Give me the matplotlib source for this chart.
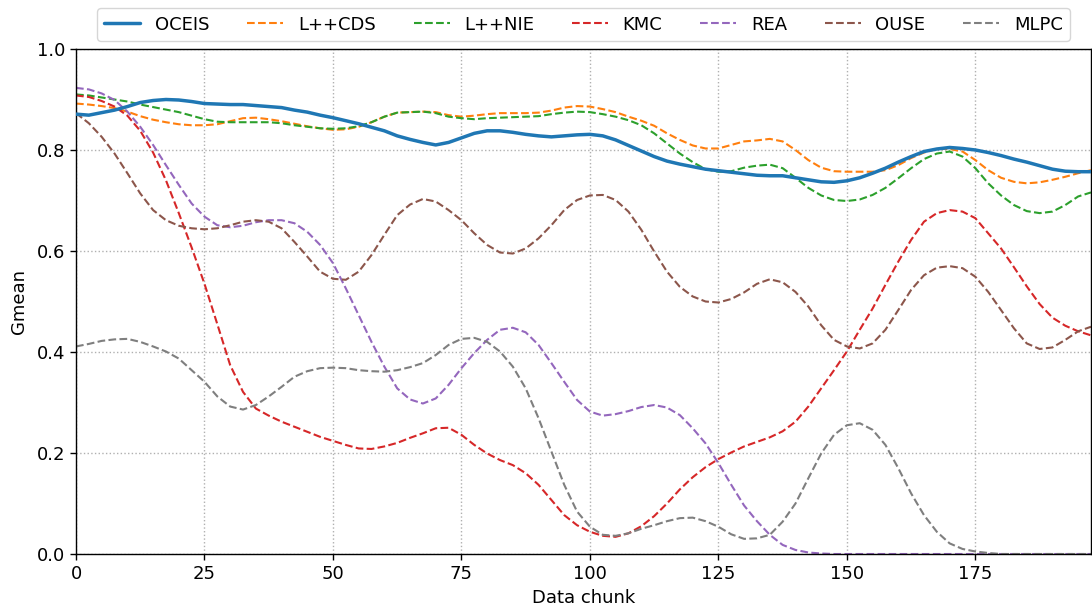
import matplotlib
matplotlib.use("Agg")
import matplotlib.pyplot as plt

# Data chunk positions at which each method's Gmean is recorded (every 2.5 chunks)
chunks = [i * 2.5 for i in range(80)]

oceis = [0.871, 0.869, 0.874, 0.879, 0.886, 0.894, 0.898, 0.900, 0.899, 0.896,
         0.892, 0.891, 0.890, 0.890, 0.888, 0.886, 0.884, 0.879, 0.875, 0.869,
         0.864, 0.858, 0.852, 0.845, 0.838, 0.828, 0.821, 0.815, 0.810, 0.815,
         0.824, 0.833, 0.838, 0.838, 0.835, 0.831, 0.828, 0.826, 0.828, 0.830,
         0.831, 0.828, 0.820, 0.809, 0.798, 0.787, 0.778, 0.772, 0.767, 0.762,
         0.759, 0.756, 0.753, 0.750, 0.749, 0.749, 0.745, 0.741, 0.737, 0.736,
         0.739, 0.745, 0.754, 0.764, 0.776, 0.787, 0.797, 0.802, 0.805, 0.803,
         0.800, 0.795, 0.789, 0.782, 0.776, 0.769, 0.762, 0.758, 0.757, 0.757]

lpp_cds = [0.892, 0.890, 0.887, 0.883, 0.876, 0.867, 0.860, 0.855, 0.851, 0.849,
           0.849, 0.851, 0.857, 0.863, 0.864, 0.861, 0.857, 0.852, 0.847, 0.843,
           0.840, 0.841, 0.846, 0.855, 0.866, 0.874, 0.875, 0.876, 0.875, 0.869,
           0.866, 0.868, 0.871, 0.873, 0.873, 0.873, 0.874, 0.878, 0.884, 0.887,
           0.886, 0.881, 0.875, 0.866, 0.858, 0.848, 0.833, 0.820, 0.809, 0.803,
           0.803, 0.810, 0.817, 0.819, 0.822, 0.817, 0.800, 0.780, 0.765, 0.758,
           0.757, 0.757, 0.757, 0.760, 0.770, 0.784, 0.795, 0.802, 0.802, 0.797,
           0.780, 0.760, 0.745, 0.737, 0.734, 0.736, 0.741, 0.747, 0.754, 0.760]

lpp_nie = [0.910, 0.908, 0.904, 0.900, 0.896, 0.890, 0.885, 0.880, 0.875, 0.868,
           0.861, 0.856, 0.855, 0.855, 0.855, 0.855, 0.853, 0.849, 0.846, 0.843,
           0.842, 0.843, 0.847, 0.855, 0.866, 0.874, 0.875, 0.876, 0.873, 0.866,
           0.863, 0.861, 0.863, 0.864, 0.865, 0.866, 0.867, 0.871, 0.874, 0.876,
           0.875, 0.871, 0.866, 0.859, 0.849, 0.833, 0.813, 0.793, 0.776, 0.762,
           0.757, 0.758, 0.765, 0.769, 0.771, 0.764, 0.745, 0.725, 0.710, 0.701,
           0.699, 0.702, 0.711, 0.725, 0.744, 0.764, 0.782, 0.793, 0.797, 0.787,
           0.764, 0.734, 0.710, 0.691, 0.679, 0.675, 0.678, 0.691, 0.708, 0.716]

kmc = [0.908, 0.905, 0.897, 0.886, 0.868, 0.838, 0.795, 0.740, 0.675, 0.607,
       0.535, 0.455, 0.374, 0.321, 0.288, 0.274, 0.262, 0.252, 0.242, 0.232,
       0.224, 0.216, 0.209, 0.208, 0.213, 0.220, 0.230, 0.239, 0.249, 0.250,
       0.236, 0.216, 0.199, 0.186, 0.176, 0.160, 0.137, 0.107, 0.077, 0.057,
       0.044, 0.036, 0.034, 0.041, 0.055, 0.075, 0.100, 0.128, 0.152, 0.172,
       0.188, 0.201, 0.213, 0.222, 0.231, 0.243, 0.262, 0.292, 0.328, 0.364,
       0.401, 0.444, 0.486, 0.533, 0.579, 0.622, 0.658, 0.675, 0.681, 0.678,
       0.665, 0.635, 0.605, 0.568, 0.530, 0.495, 0.468, 0.452, 0.441, 0.433]

rea = [0.923, 0.920, 0.912, 0.899, 0.876, 0.846, 0.810, 0.770, 0.731, 0.694,
       0.668, 0.651, 0.647, 0.650, 0.657, 0.661, 0.661, 0.655, 0.638, 0.612,
       0.576, 0.526, 0.473, 0.420, 0.371, 0.328, 0.306, 0.298, 0.308, 0.335,
       0.368, 0.398, 0.424, 0.444, 0.448, 0.439, 0.414, 0.378, 0.341, 0.305,
       0.282, 0.274, 0.277, 0.283, 0.291, 0.295, 0.290, 0.275, 0.249, 0.219,
       0.180, 0.137, 0.096, 0.065, 0.038, 0.018, 0.008, 0.003, 0.001, 0.0,
       0.0, 0.0, 0.0, 0.0, 0.0, 0.0, 0.0, 0.0, 0.0, 0.0,
       0.0, 0.0, 0.0, 0.0, 0.0, 0.0, 0.0, 0.0, 0.0, 0.0]

ouse = [0.873, 0.853, 0.826, 0.793, 0.754, 0.714, 0.681, 0.661, 0.650, 0.645,
        0.643, 0.645, 0.651, 0.658, 0.661, 0.658, 0.645, 0.618, 0.589, 0.559,
        0.545, 0.543, 0.559, 0.592, 0.632, 0.671, 0.692, 0.703, 0.698, 0.681,
        0.661, 0.635, 0.612, 0.597, 0.595, 0.605, 0.625, 0.651, 0.681, 0.701,
        0.710, 0.711, 0.701, 0.678, 0.642, 0.599, 0.559, 0.529, 0.510, 0.500,
        0.498, 0.505, 0.518, 0.535, 0.544, 0.538, 0.519, 0.490, 0.453, 0.424,
        0.411, 0.407, 0.417, 0.444, 0.483, 0.523, 0.552, 0.567, 0.570, 0.566,
        0.549, 0.519, 0.483, 0.447, 0.417, 0.406, 0.409, 0.424, 0.441, 0.450]

mlpc = [0.411, 0.416, 0.422, 0.425, 0.426, 0.420, 0.411, 0.401, 0.387, 0.364,
        0.341, 0.312, 0.292, 0.286, 0.295, 0.312, 0.331, 0.351, 0.362, 0.368,
        0.369, 0.368, 0.364, 0.362, 0.361, 0.364, 0.370, 0.378, 0.394, 0.414,
        0.426, 0.428, 0.420, 0.401, 0.371, 0.328, 0.269, 0.203, 0.137, 0.084,
        0.054, 0.038, 0.036, 0.041, 0.050, 0.057, 0.065, 0.071, 0.072, 0.065,
        0.054, 0.039, 0.030, 0.031, 0.038, 0.064, 0.100, 0.150, 0.199, 0.236,
        0.255, 0.259, 0.246, 0.216, 0.170, 0.120, 0.077, 0.044, 0.021, 0.010,
        0.005, 0.002, 0.0, 0.0, 0.0, 0.0, 0.0, 0.0, 0.0, 0.0]

labels = ["OCEIS", "L++CDS", "L++NIE", "KMC", "REA", "OUSE", "MLPC"]
colors = ["#1f77b4", "#ff7f0e", "#2ca02c", "#d62728", "#9467bd", "#8c564b", "#7f7f7f"]
series = [oceis, lpp_cds, lpp_nie, kmc, rea, ouse, mlpc]

plt.rcParams["font.family"] = ["DejaVu Sans"]
plt.rcParams["font.size"] = 13

fig = plt.figure(figsize=(10.92, 6.10), dpi=100)
ax = fig.add_axes([76 / 1092, 56 / 610, 1015 / 1092, 505 / 610])

for i, (lab, col, ys) in enumerate(zip(labels, colors, series)):
    if i == 0:
        ax.plot(chunks, ys, color=col, lw=2.5, ls="-", label=lab, zorder=3,
                solid_joinstyle="round", solid_capstyle="round")
    else:
        ax.plot(chunks, ys, color=col, lw=1.5, ls="--", label=lab, zorder=2,
                dash_joinstyle="round")

ax.set_xlim(0, 197.5)
ax.set_ylim(0, 1.0)
ax.set_xticks([0, 25, 50, 75, 100, 125, 150, 175])
ax.set_yticks([0.0, 0.2, 0.4, 0.6, 0.8, 1.0])
ax.tick_params(length=4.5, width=1.0)
for sp in ax.spines.values():
    sp.set_linewidth(1.0)
ax.grid(True, ls=":", color="#b0b0b0", lw=1.0)
ax.set_xlabel("Data chunk", labelpad=4)
ax.set_ylabel("Gmean", labelpad=6)

ax.legend(loc="lower center", bbox_to_anchor=(0.5, 1.0), ncol=7, frameon=True,
          borderaxespad=0.45, columnspacing=2.1, handlelength=2.0,
          handletextpad=0.8, fontsize=13)

fig.savefig("out.png", dpi=100)
